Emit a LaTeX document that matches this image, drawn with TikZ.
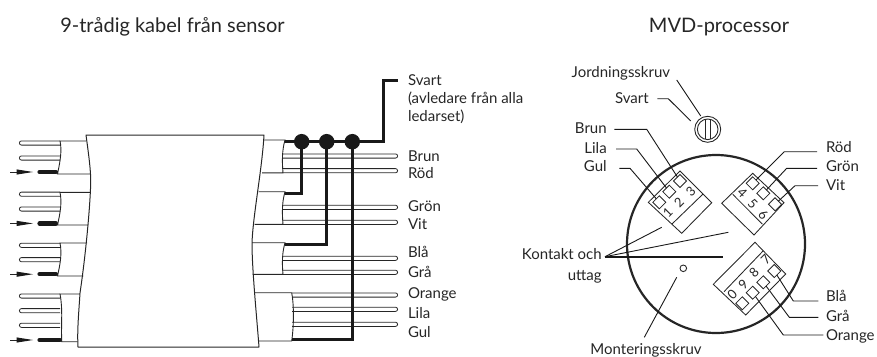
\documentclass[tikz,border=0pt]{standalone}
\usepackage{fontspec}
\setmainfont{Lato}
\usetikzlibrary{arrows.meta}
\tikzset{
  lbl/.style={inner sep=0pt,outer sep=0pt,yshift=-5pt,font=\fontsize{15}{17}\selectfont,text=black!85},
  lblw/.style={lbl,anchor=base west},
  lble/.style={lbl,anchor=base east},
  ttl/.style={inner sep=0pt,outer sep=0pt,anchor=base,font=\fontsize{20}{22}\selectfont,text=black!85},
  thin line/.style={line width=0.9pt,black!85},
  edge line/.style={line width=1pt,black!85},
  wirel/.style={line width=0.8pt,black!85},
  lead/.style={line width=0.9pt,black!90},
  heavy/.style={line width=3pt,black!90,line join=miter},
  dotj/.style={circle,fill=black!90,minimum size=15.5pt,inner sep=0pt},
  bar/.style={line width=4.2pt,black!90,line cap=round},
  sq/.style={draw=black!85,line width=0.8pt,minimum size=9.2pt,inner sep=0pt,outer sep=0pt},
  pin/.style={inner sep=0pt,font=\fontsize{13}{14}\selectfont,text=black!85},
  conn/.style={line width=0.85pt,black!85,line join=miter},
}
\newcommand{\wireL}[1]{\draw[wirel] (60,#1-2.1) -- (21.5,#1-2.1) arc[start angle=270,end angle=90,radius=2.1] -- (60,#1+2.1);}
\newcommand{\wireR}[2]{\draw[wirel] (#2,#1-2.1) -- (395.5,#1-2.1) arc[start angle=270,end angle=450,radius=2.1] -- (#2,#1+2.1);}
\newcommand{\feed}[2]{%
  \draw[thin line] (10,#1) -- (18,#1);
  \fill[black!90] (16.7,#1-2.6) -- (33,#1) -- (16.7,#1+2.6) -- cycle;
  \draw[bar] (39.5,#1) -- (#2,#1);}
\begin{document}
\begin{tikzpicture}[x=1pt,y=-1pt]
\useasboundingbox (0,0) rectangle (877,356);
% titles
\node[ttl] (t1) at (172.5,32.5) {9-trådig kabel från sensor};
\node[ttl] (t2) at (719,32.5) {MVD-processor};
% cable body
\draw[edge line,line join=round] (86,135) .. controls (88,150) and (91,170) .. (90.7,183) .. controls (90,210) and (85,260) .. (80,293) .. controls (79,310) and (77,330) .. (78,347) -- (259,347) .. controls (257,320) and (252,270) .. (252,243) .. controls (253,215) and (262,170) .. (264,135) -- cycle;
% left groups
\wireL{143}\wireL{158}\feed{172}{56}
\wireL{194.2}\wireL{209}\feed{223.4}{56}
\wireL{245.3}\wireL{259.7}\feed{274.2}{56}
\wireL{296}\wireL{310.7}\wireL{325.3}\feed{340}{60}
\draw[thin line] (86,141) -- (60,141) .. controls (62,150) and (60.5,160) .. (57.5,174) -- (90,174);
\draw[thin line] (90,192.3) -- (60,192.3) .. controls (62,202) and (60.5,212) .. (57.5,225) -- (88.3,225);
\draw[thin line] (87,243) -- (60,243) .. controls (62,253) and (60.5,263) .. (57.5,276) -- (83.3,276);
\draw[thin line] (80,294) -- (60,294) .. controls (63,310) and (61,320) .. (61.7,341.7) -- (77.5,341.7);
% right groups
\wireR{156}{283}\wireR{170.7}{283}
\wireR{207.3}{283}\wireR{222.3}{283}
\wireR{258.3}{283}\wireR{272.3}{283}
\wireR{295}{292}\wireR{309.3}{292}\wireR{324.3}{292}
\draw[thin line] (264,140) -- (285,140) .. controls (282,150) and (282,162) .. (283,172.8) -- (262,172.8);
\draw[thin line] (258.5,191.7) -- (285,191.7) .. controls (282,202) and (282,213) .. (283,224.4) -- (254.5,224.4);
\draw[thin line] (252.2,242.7) -- (285,242.7) .. controls (282,253) and (282,264) .. (283,274.4) -- (252.5,274.4);
\draw[thin line] (255,292.7) -- (291.7,292.7) .. controls (294,305) and (294,325) .. (291.7,341) -- (259,341);
% shield
\node[dotj] (d1) at (301.7,141.7) {};
\node[dotj] (d2) at (326.7,141.7) {};
\node[dotj] (d3) at (352.3,141.7) {};
\coordinate (svartend) at (398,80.7);
\draw[heavy] (285,141.7) -- (d1.center) -- (d2.center) -- (d3.center) -- (383,141.7) -- (383,80.7) -- (svartend);
\draw[heavy] (d1.center) -- (301.7,193.3) -- (285,193.3);
\draw[heavy] (d2.center) -- (326.7,244) -- (285,244);
\draw[heavy] (d3.center) -- (352.3,339.5) -- (291.7,339.5);
% left part labels
\node[lblw] (a0) at (408,80) {Svart};
\node[lblw] (a1) at (408,98) {(avledare från alla};
\node[lblw] (a2) at (408,116.5) {ledarset)};
\node[lblw] (a3) at (408,156) {Brun};
\node[lblw] (a4) at (408,173) {Röd};
\node[lblw] (a5) at (408,206) {Grön};
\node[lblw] (a6) at (408,224) {Vit};
\node[lblw] (a7) at (408,252.5) {Blå};
\node[lblw] (a8) at (408,272) {Grå};
\node[lblw] (a9) at (408,293) {Orange};
\node[lblw] (a10) at (408,313) {Lila};
\node[lblw] (a11) at (408,332) {Gul};
% housing
\draw[line width=2.2pt,black!85] (716,244) circle[radius=89];
% screw
\draw[line width=0.9pt,black!85] (707.7,129.3) circle[radius=13];
\draw[line width=0.9pt,black!85] (707.7,129.3) circle[radius=10.3];
\coordinate (scrT1) at (705.7,119.2);
\coordinate (scrB1) at (705.7,139.4);
\coordinate (scrT2) at (710,119.2);
\coordinate (scrB2) at (710,139.4);
\draw[line width=0.9pt,black!85] (scrT1) -- (scrB1) (scrT2) -- (scrB2);
% connector frames
\draw[conn] (680,171) -- (711.7,202.7) -- (681.7,233.3) -- (648.3,202.3) -- cycle (703,194) -- (672,224);
\draw[conn] (752.7,173.3) -- (784,202.7) -- (754,235) -- (721.7,203.3) -- cycle (732.7,194.3) -- (762.3,224);
\draw[conn] (755,242.3) -- (785.7,274) -- (745.7,315) -- (713.3,284.3) -- cycle (763.5,250.5) -- (724,291.7);
% squares
\node[sq,rotate=45] (s1) at (659.3,202.3) {};
\node[sq,rotate=45] (s2) at (669.3,191.7) {};
\node[sq,rotate=45] (s3) at (680,181) {};
\node[sq,rotate=45] (s4) at (752.7,183.3) {};
\node[sq,rotate=45] (s5) at (763.3,193.3) {};
\node[sq,rotate=45] (s6) at (775,204.3) {};
\node[sq,rotate=45] (s7) at (774.3,271) {};
\node[sq,rotate=45] (s8) at (763.3,282.3) {};
\node[sq,rotate=45] (s9) at (752.7,292.7) {};
\node[sq,rotate=45] (s0) at (742.3,303.3) {};
% pin numbers
\node[pin,rotate=45] (n1) at (667.7,212.7) {1};
\node[pin,rotate=45] (n2) at (679,202.7) {2};
\node[pin,rotate=45] (n3) at (690.7,191.7) {3};
\node[pin,rotate=-45] (n4) at (742.3,193.3) {4};
\node[pin,rotate=-45] (n5) at (752.7,204.3) {5};
\node[pin,rotate=-45] (n6) at (763.3,215) {6};
\node[pin,rotate=45] (n7) at (765.7,260) {7};
\node[pin,rotate=45] (n8) at (754,272.7) {8};
\node[pin,rotate=45] (n9) at (743.3,284) {9};
\node[pin,rotate=45] (n0) at (732.3,294.3) {0};
% right part labels
\node[lblw] (j) at (571.7,72.3) {Jordningsskruv};
\node[lble] (sv) at (648.7,98.7) {Svart};
\node[lble] (br) at (606.7,128.7) {Brun};
\node[lble] (li) at (606.7,148) {Lila};
\node[lble] (gu) at (606.7,166.5) {Gul};
\node[lblw] (ro) at (826,147.7) {Röd};
\node[lblw] (gr) at (826,166.7) {Grön};
\node[lblw] (vi) at (826,185.7) {Vit};
\node[lblw] (bl) at (826,296.7) {Blå};
\node[lblw] (ga) at (826,316.7) {Grå};
\node[lblw] (or) at (826,335) {Orange};
\node[lble] (ko) at (601.7,254.3) {Kontakt och};
\node[lble] (ut) at (601.7,275) {uttag};
\node[lbl,anchor=base] (mo) at (646,349) {Monteringsskruv};
% leaders
\coordinate (jS) at (676.7,80);
\coordinate (jE) at (700.7,116);
\draw[lead] (jS) -- (jE);
\coordinate (svS) at (657.3,98.7);
\coordinate (svE) at (690.7,121);
\draw[lead] (svS) -- (668.3,98.7) -- (svE);
\coordinate (brS) at (614.3,129.3);
\coordinate (liS) at (616,149);
\coordinate (guS) at (619.3,168.3);
\coordinate (roS) at (817,151.7);
\coordinate (grS) at (817,168.3);
\coordinate (viS) at (818,185.7);
\coordinate (blS) at (818.3,301);
\coordinate (gaS) at (818.3,317.3);
\coordinate (orS) at (823.3,335);
\draw[lead] (brS) -- (646.7,129.3) -- (s3);
\draw[lead] (liS) -- (636.7,149) -- (s2);
\draw[lead] (guS) -- (630,168.3) -- (s1);
\draw[lead] (roS) -- (784.3,151.7) -- (s4);
\draw[lead] (grS) -- (786.7,168.3) -- (s5);
\draw[lead] (viS) -- (795,185.7) -- (s6);
\draw[lead] (blS) -- (793.3,301) -- (s7);
\draw[lead] (gaS) -- (789.3,317.3) -- (s8);
\draw[lead] (orS) -- (783.3,335) -- (s9);
% contact leaders
\coordinate (kS) at (605,256.7);
\coordinate (k1) at (661.7,227.3);
\coordinate (k2) at (728.3,232.3);
\coordinate (k3) at (723.3,256.7);
\draw[lead] (kS) -- (k1);
\draw[lead] (kS) -- (k2);
\draw[line width=1.8pt,black!90] (kS) -- (k3);
% mounting screw
\node[circle,draw=black!85,line width=0.9pt,minimum size=6.6pt,inner sep=0pt] (hole) at (683.3,268.3) {};
\coordinate (moS) at (644.3,337.3);
\coordinate (moE) at (676.7,277.3);
\draw[lead] (moS) -- (moE);
\end{tikzpicture}
\end{document}
